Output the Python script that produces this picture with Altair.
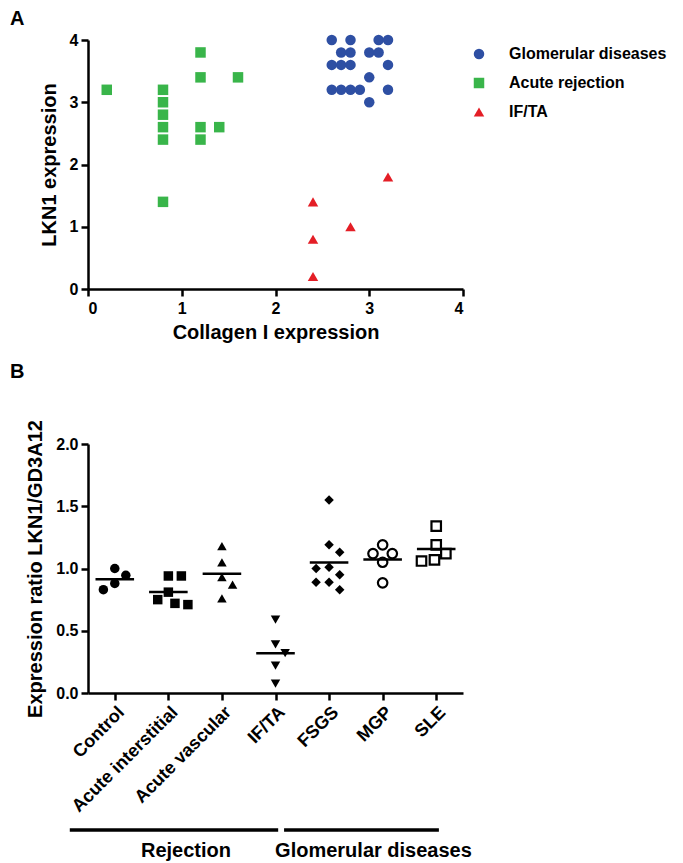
import json
import altair as alt
import pandas as pd

FONT = "Liberation Sans"

# ---------------- Panel A data ----------------
glom_x = [2.6, 2.8, 3.1, 3.2, 2.7, 2.8, 3.0, 3.1, 2.6, 2.7, 2.8, 3.2, 3.0,
          2.6, 2.7, 2.8, 2.9, 3.2, 3.0]
glom_y = [4.0, 4.0, 4.0, 4.0, 3.8, 3.8, 3.8, 3.8, 3.6, 3.6, 3.6, 3.6, 3.4,
          3.2, 3.2, 3.2, 3.2, 3.2, 3.0]
acute_x = [0.2, 0.8, 0.8, 0.8, 0.8, 0.8, 0.8, 1.2, 1.2, 1.2, 1.2, 1.4, 1.6]
acute_y = [3.2, 3.2, 3.0, 2.8, 2.6, 2.4, 1.4, 3.8, 3.4, 2.6, 2.4, 2.6, 3.4]
ifta_x = [2.4, 2.4, 2.4, 2.8, 3.2]
ifta_y = [1.4, 0.8, 0.2, 1.0, 1.8]

groups_A = ["Glomerular diseases", "Acute rejection", "IF/TA"]
colors_A = ["#2E4FA3", "#39B54A", "#E41E26"]
shapes_A = ["circle", "square", "triangle-up"]

# ---------------- Panel B data ----------------
categories = ["Control", "Acute interstitial", "Acute vascular", "IF/TA",
              "FSGS", "MGP", "SLE"]
control_vals = [1.00, 0.945, 0.88, 0.83]
acute_int_vals = [0.94, 0.94, 0.81, 0.75, 0.72, 0.71]
acute_vasc_vals = [1.18, 1.05, 0.93, 0.87, 0.76]
ifta_vals = [0.59, 0.39, 0.32, 0.22, 0.075]
fsgs_vals = [1.55, 1.19, 1.13, 1.01, 1.00, 0.95, 0.89, 0.89, 0.83]
mgp_vals = [1.19, 1.12, 1.12, 1.05, 0.885]
sle_vals = [1.34, 1.19, 1.12, 1.07, 1.06]
series_B = [control_vals, acute_int_vals, acute_vasc_vals, ifta_vals,
            fsgs_vals, mgp_vals, sle_vals]

shapes_B = ["circle", "square", "triangle-up", "triangle-down", "diamond",
            "circle", "square"]
sizes_B = [90, 90, 100, 100, 140, 55, 70]
open_B = ["MGP", "SLE"]

group_names = ["Rejection", "Glomerular diseases"]
group_first = ["Control", "FSGS"]
group_last = ["IF/TA", "SLE"]

# ---------------- layout constants ----------------
W, H = 375, 249
STEP = W / len(categories)
PX_PER_UNIT_B = H / 2.0
SWARM_D = 13.0


def swarm(values):
    """Greedy beeswarm: horizontal pixel offsets so markers do not overlap."""
    placed = []
    offs = []
    side = 1
    for v in values:
        y = v * PX_PER_UNIT_B
        forb = []
        for (x0, y0) in placed:
            dy = abs(y - y0)
            if dy < SWARM_D:
                w = (SWARM_D ** 2 - dy ** 2) ** 0.5
                forb.append((x0 - w, x0 + w))
        cands = [0.0] + [a for a, b in forb] + [b for a, b in forb]
        ok = [c for c in cands
              if all(not (a + 1e-6 < c < b - 1e-6) for a, b in forb)]
        best = min(ok, key=lambda c: (round(abs(c), 3), 0 if c * side >= 0 else 1))
        if abs(best) > 1e-6:
            side = -1 if best > 0 else 1
        placed.append((best, y))
        offs.append(best)
    return offs


ax = dict(domainColor="black", domainWidth=2.5, tickColor="black",
          tickWidth=2.5, tickSize=7, labelFont=FONT, labelFontWeight="bold",
          labelColor="black", titleFont=FONT, titleFontSize=20,
          titleFontWeight="bold", titleColor="black", grid=False,
          labelOverlap=False)

# ---------------- Panel A ----------------
dfA = pd.DataFrame({
    "x": glom_x + acute_x + ifta_x,
    "y": glom_y + acute_y + ifta_y,
    "group": [groups_A[0]] * len(glom_x) + [groups_A[1]] * len(acute_x)
             + [groups_A[2]] * len(ifta_x),
})

leg = dict(title=None, orient="none", legendX=383, legendY=6, padding=0,
           symbolSize=110, labelFont=FONT, labelFontSize=16,
           labelFontWeight="bold", labelColor="black", labelOffset=22,
           rowPadding=13, symbolStrokeWidth=0, symbolOpacity=1, labelLimit=300)

chartA = alt.Chart(
    dfA,
    title=alt.TitleParams("A", anchor="start", frame="group", dx=-78,
                          offset=3, fontSize=20, font=FONT,
                          fontWeight="bold", color="black"),
).mark_point(filled=True, opacity=1, size=110).encode(
    x=alt.X("x:Q", scale=alt.Scale(domain=[0, 4], nice=False, zero=False),
            axis=alt.Axis(values=[0, 1, 2, 3, 4], format="d",
                          title="Collagen I expression", labelFontSize=16,
                          labelPadding=4, titlePadding=6, **ax)),
    y=alt.Y("y:Q", scale=alt.Scale(domain=[0, 4], nice=False),
            axis=alt.Axis(values=[0, 1, 2, 3, 4], format="d",
                          title="LKN1 expression", labelFontSize=16,
                          labelPadding=3, titlePadding=10, **ax)),
    color=alt.Color("group:N", scale=alt.Scale(domain=groups_A, range=colors_A),
                    legend=alt.Legend(**leg)),
    shape=alt.Shape("group:N", scale=alt.Scale(domain=groups_A, range=shapes_A),
                    legend=alt.Legend(**leg)),
).properties(width=W, height=H)

# ---------------- Panel B ----------------
rows = []
for i, (cat, vals) in enumerate(zip(categories, series_B)):
    offs = swarm(vals)
    for v, o in zip(vals, offs):
        rows.append({"cat": cat, "idx": i, "value": v, "xpos": i + o / STEP})
dfB = pd.DataFrame(rows)

label_expr = json.dumps(categories) + "[datum.value]"
xaxisB = alt.Axis(values=list(range(len(categories))), labelExpr=label_expr,
                  labelAngle=-45, title=None, labelFontSize=18,
                  labelPadding=3, **ax)
yaxisB = alt.Axis(values=[0, 0.5, 1, 1.5, 2], format=".1f",
                  title="Expression ratio LKN1/GD3A12", labelFontSize=16,
                  labelPadding=3, titlePadding=10, **ax)


def xs():
    return alt.Scale(domain=[-0.5, len(categories) - 0.5], nice=False, zero=False)


def ys():
    return alt.Scale(domain=[0, 2], nice=False, zero=True)


shapeB = alt.Shape("cat:N", scale=alt.Scale(domain=categories, range=shapes_B),
                   legend=None)
sizeB = alt.Size("cat:N", scale=alt.Scale(domain=categories, range=sizes_B),
                 legend=None)

baseB = alt.Chart(dfB)
filled_cats = [c for c in categories if c not in open_B]

filled_pts = baseB.transform_filter(
    alt.FieldOneOfPredicate(field="cat", oneOf=filled_cats)
).mark_point(filled=True, color="black", opacity=1).encode(
    x=alt.X("xpos:Q", scale=xs(), axis=xaxisB),
    y=alt.Y("value:Q", scale=ys(), axis=yaxisB),
    shape=shapeB, size=sizeB)

open_pts = baseB.transform_filter(
    alt.FieldOneOfPredicate(field="cat", oneOf=open_B)
).mark_point(filled=False, color="black", opacity=1, strokeWidth=2.2).encode(
    x=alt.X("xpos:Q", scale=xs(), axis=xaxisB),
    y=alt.Y("value:Q", scale=ys(), axis=yaxisB),
    shape=shapeB, size=sizeB)

means = baseB.transform_aggregate(
    mean="mean(value)", groupby=["idx"]
).transform_calculate(
    x0="datum.idx - 0.36", x1="datum.idx + 0.36"
).mark_rule(color="black", strokeWidth=2.5).encode(
    x=alt.X("x0:Q", scale=xs(), axis=xaxisB),
    x2="x1:Q",
    y=alt.Y("mean:Q", scale=ys(), axis=yaxisB),
)

dfG = pd.DataFrame({
    "name": group_names,
    "g0": [categories.index(c) for c in group_first],
    "g1": [categories.index(c) for c in group_last],
})
baseG = alt.Chart(dfG).transform_calculate(
    x0="datum.g0 - 0.84", x1="datum.g1 + 0.05",
    mid="(datum.g0 - 0.84 + datum.g1 + 0.05) / 2",
)
group_lines = baseG.mark_rule(color="black", strokeWidth=3.5).encode(
    x=alt.X("x0:Q", scale=xs(), axis=xaxisB),
    x2="x1:Q",
    y=alt.value(386),
)
group_text = baseG.mark_text(font=FONT, fontSize=20, fontWeight="bold",
                             color="black", baseline="middle", dx=12).encode(
    x=alt.X("mid:Q", scale=xs(), axis=xaxisB),
    y=alt.value(407),
    text="name:N",
)

chartB = alt.layer(filled_pts, open_pts, means, group_lines, group_text).properties(
    width=W, height=H,
    title=alt.TitleParams("B", anchor="start", frame="group", dx=-78,
                          offset=38, fontSize=20, font=FONT,
                          fontWeight="bold", color="black"),
)

chart = alt.vconcat(chartA, chartB, spacing=155, bounds="flush").resolve_scale(
    color="independent", shape="independent", size="independent",
    x="independent", y="independent"
).resolve_legend(
    color="independent", shape="independent", size="independent"
).configure_view(
    strokeWidth=0
).properties(padding={"left": 2, "top": 1, "right": 0, "bottom": 0})

chart.save("out.html", embed_options={"renderer": "svg", "actions": False})
